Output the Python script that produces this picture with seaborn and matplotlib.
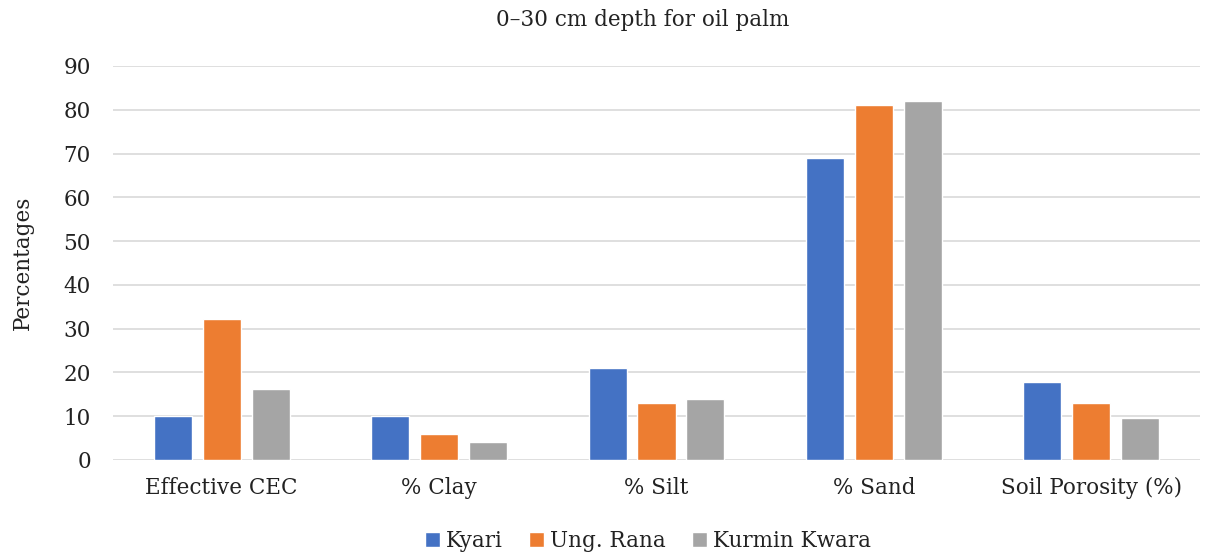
import pandas as pd
import matplotlib
matplotlib.use("Agg")
import matplotlib.pyplot as plt
import seaborn as sns

categories = ["Effective CEC", "% Clay", "% Silt", "% Sand", "Soil Porosity (%)"]
kyari = [10.1, 10.0, 21.0, 69.0, 17.9]
ung_rana = [32.1, 6.0, 13.0, 81.0, 13.1]
kurmin_kwara = [16.3, 4.0, 14.0, 82.0, 9.6]
series = ["Kyari", "Ung. Rana", "Kurmin Kwara"]
colors = ["#4472C4", "#ED7D31", "#A5A5A5"]

df = pd.DataFrame({
    "category": categories * 3,
    "value": kyari + ung_rana + kurmin_kwara,
    "site": [s for s in series for _ in categories],
})

sns.set_theme(style="white")
plt.rcParams["font.family"] = ["DejaVu Serif"]

fig = plt.figure(figsize=(12.11, 5.58), dpi=100)
ax = fig.add_axes([113 / 1211, 1 - 460 / 558, 1087 / 1211, 394 / 558])

sns.barplot(data=df, x="category", y="value", hue="site", order=categories,
            hue_order=series, palette=colors, width=0.675, gap=0.22,
            saturation=1, ax=ax, legend=True)

ax.set_ylim(0, 90)
ax.set_xlim(-0.5, 4.5)
ax.set_yticks(range(0, 91, 10))
ax.yaxis.grid(True, color="#d9d9d9", linewidth=1.2)
ax.set_axisbelow(True)
for s in ax.spines.values():
    s.set_visible(False)
ax.tick_params(axis="both", length=0, labelsize=15.5, colors="#222222")
ax.tick_params(axis="y", pad=16)
ax.tick_params(axis="x", pad=12)
ax.set_xlabel("")
ax.set_ylabel("Percentages", fontsize=15.5, color="#222222", labelpad=21)

fig.text(643 / 1211, 1 - 20 / 558, "0\u201330 cm depth for oil palm",
         ha="center", va="center", fontsize=15.5, color="#222222")

handles, labels = ax.get_legend_handles_labels()
ax.legend(handles, labels, loc="center", bbox_to_anchor=(648 / 1211, 1 - 541 / 558),
          bbox_transform=fig.transFigure, ncol=3, frameon=False, fontsize=15.5,
          handlelength=0.7, handleheight=0.7, handletextpad=0.3, columnspacing=1.2,
          labelcolor="#222222")

fig.savefig("out.png", dpi=100)
